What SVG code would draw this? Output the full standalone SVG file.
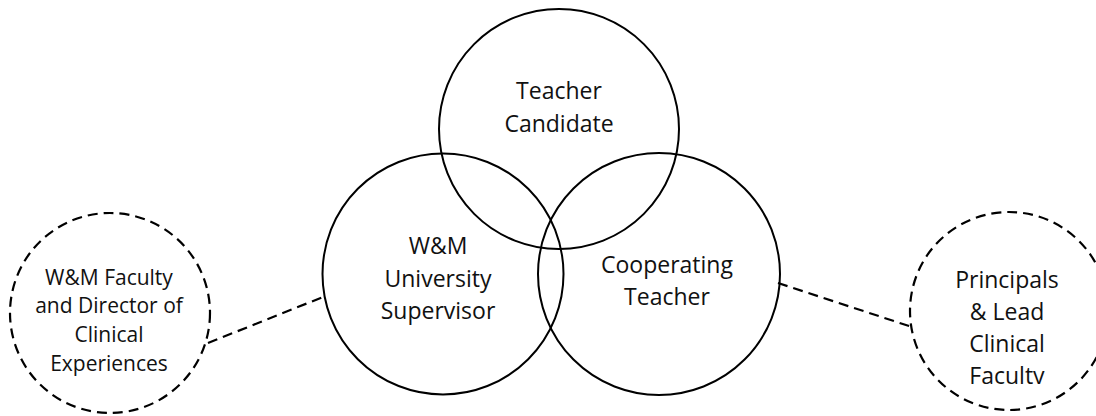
<svg xmlns="http://www.w3.org/2000/svg" width="1096" height="416" viewBox="0 0 1096 416">
<style>
.solid{fill:none;stroke:#000;stroke-width:2}
.dash{fill:none;stroke:#000;stroke-width:2.2;stroke-dasharray:10 6}
text{font-family:"Open Sans","Noto Sans",sans-serif;font-size:23px;fill:#111;text-anchor:middle}
.sm{font-size:21px}
</style>
<defs>
<clipPath id="rclip"><rect x="900" y="200" width="196" height="184"/></clipPath>
</defs>
<rect width="1096" height="416" fill="#fff"/>
<g id="connectors">
<line class="dash" x1="208" y1="343" x2="323" y2="297"/>
<line class="dash" x1="778" y1="283" x2="912" y2="327"/>
</g>
<g id="teacher-candidate">
<circle class="solid" cx="559" cy="129" r="120"/>
<text x="559" y="99">Teacher</text>
<text x="559" y="132">Candidate</text>
</g>
<g id="university-supervisor">
<circle class="solid" cx="443" cy="274" r="120.5"/>
<text x="438" y="254">W&amp;M</text>
<text x="438" y="287">University</text>
<text x="438" y="319">Supervisor</text>
</g>
<g id="cooperating-teacher">
<circle class="solid" cx="659" cy="274" r="121"/>
<text x="667" y="273">Cooperating</text>
<text x="667" y="305">Teacher</text>
</g>
<g id="faculty-director">
<circle class="dash" cx="110" cy="313" r="100"/>
<text class="sm" x="109" y="285">W&amp;M Faculty</text>
<text class="sm" x="109" y="313">and Director of</text>
<text class="sm" x="109" y="342">Clinical</text>
<text class="sm" x="109" y="371">Experiences</text>
</g>
<g id="principals">
<circle class="dash" cx="1009" cy="311" r="99"/>
<g clip-path="url(#rclip)">
<text x="1007" y="288">Principals</text>
<text x="1007" y="320">&amp; Lead</text>
<text x="1007" y="352">Clinical</text>
<text x="1007" y="384">Faculty</text>
</g>
</g>
</svg>
